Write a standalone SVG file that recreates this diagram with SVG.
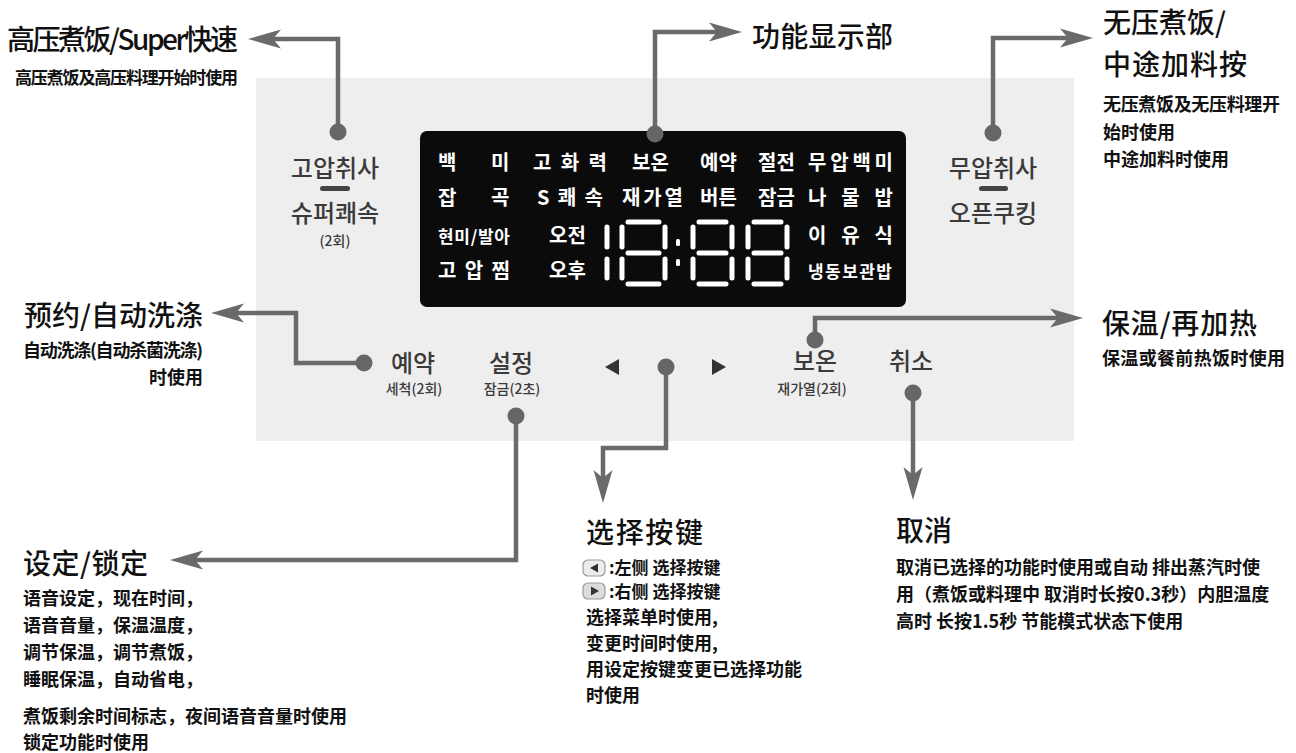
<svg xmlns="http://www.w3.org/2000/svg" width="1296" height="753" viewBox="0 0 1296 753">
<style>
.zh{font-family:"Noto Sans CJK SC","Noto Sans",sans-serif;}
.title{font-size:28px;font-weight:500;fill:#111;}
.sub{font-size:18px;font-weight:700;fill:#111;}
.kr{font-family:"Noto Sans CJK KR","Noto Sans",sans-serif;fill:#3a3a3a;font-weight:500;text-anchor:middle;}
.big{font-size:24px;}
.small{font-size:14px;}
.disp{font-family:"Noto Sans CJK KR","Noto Sans",sans-serif;font-weight:700;font-size:20px;fill:#fff;}
.seg{stroke:#fff;stroke-width:5;stroke-linecap:round;fill:none;}
.conn{fill:none;stroke:#6a6a6a;stroke-width:4.5;marker-end:url(#ah);}
.dot{fill:#666;}
.dash{fill:#444;}
.tri{fill:#333;}
</style>
<defs>
<marker id="ah" markerUnits="userSpaceOnUse" viewBox="-15 -11 37 22" markerWidth="37" markerHeight="22" refX="0" refY="0" orient="auto">
<path d="M20,0 L-13,-9.5 L-5,0 L-13,9.5 Z" fill="#6a6a6a"/>
</marker>
</defs>
<rect width="1296" height="753" fill="#fff"/>

<g id="panel">
<rect x="256" y="78" width="818" height="363" fill="#eeeeee"/>
</g>

<g id="display">
<rect x="420" y="131" width="486" height="176" rx="7" fill="#0b0b0b"/>
<text class="disp" x="438" y="170">백</text>
<text class="disp" x="491" y="170">미</text>
<text class="disp" x="533" y="170" textLength="74">고 화 력</text>
<text class="disp" x="632" y="170">보온</text>
<text class="disp" x="700" y="170">예약</text>
<text class="disp" x="758" y="170">절전</text>
<text class="disp" x="808" y="170" textLength="85">무압백미</text>
<text class="disp" x="438" y="205">잡</text>
<text class="disp" x="491" y="205">곡</text>
<text class="disp" x="537" y="205" textLength="66">S 쾌 속</text>
<text class="disp" x="622" y="205" textLength="61">재가열</text>
<text class="disp" x="700" y="205">버튼</text>
<text class="disp" x="758" y="205">잠금</text>
<text class="disp" x="808" y="205" textLength="85">나 물 밥</text>
<text class="disp" x="438" y="243" textLength="72" style="font-size:17px">현미/발아</text>
<text class="disp" x="549" y="243">오전</text>
<text class="disp" x="808" y="243" textLength="85">이 유 식</text>
<text class="disp" x="438" y="278" textLength="72">고 압 찜</text>
<text class="disp" x="549" y="278">오후</text>
<text class="disp" x="808" y="278" textLength="84" style="font-size:17px">냉동보관밥</text>
<path class="seg" d="M607,227V247M607,259V278
M622,227V247M622,259V278M665,227V247M665,259V278M628,222H659M628,253H659M628,284H659
M693,227V247M693,259V278M732,227V247M732,259V278M699,222H726M699,253H726M699,284H726
M748,227V247M748,259V278M787,227V247M787,259V278M754,222H781M754,253H781M754,284H781"/>
<rect x="676" y="239" width="4" height="7" rx="1.5" fill="#fff"/>
<rect x="676" y="259" width="4" height="7" rx="1.5" fill="#fff"/>
</g>

<g id="btn-pressure">
<text class="kr big" x="335" y="177">고압취사</text>
<rect class="dash" x="320" y="186" width="30" height="5" rx="2.5"/>
<text class="kr big" x="335" y="222">슈퍼쾌속</text>
<text class="kr small" x="335" y="246">(2회)</text>
</g>
<g id="btn-nopressure">
<text class="kr big" x="993" y="177">무압취사</text>
<rect class="dash" x="979" y="186" width="29" height="5" rx="2.5"/>
<text class="kr big" x="993" y="222">오픈쿠킹</text>
</g>
<g id="btn-reserve">
<text class="kr big" x="413" y="372">예약</text>
<text class="kr small" x="414" y="394">세척(2회)</text>
</g>
<g id="btn-setting">
<text class="kr big" x="511" y="372">설정</text>
<text class="kr small" x="512" y="394">잠금(2초)</text>
</g>
<g id="btn-arrows">
<polygon class="tri" points="605,367 619,359 619,375"/>
<polygon class="tri" points="726,367 712,359 712,375"/>
</g>
<g id="btn-keepwarm">
<text class="kr big" x="815" y="370">보온</text>
<text class="kr small" x="812" y="394">재가열(2회)</text>
</g>
<g id="btn-cancel">
<text class="kr big" x="911" y="370">취소</text>
</g>

<g id="connectors">
<path class="conn" d="M338,132V39H268"/>
<path class="conn" d="M655,134V32H722"/>
<path class="conn" d="M993,133V38H1073"/>
<path class="conn" d="M364,363H296V313H231"/>
<path class="conn" d="M516,416V560H190"/>
<path class="conn" d="M666,367V448H603V483"/>
<path class="conn" d="M815,340V318H1063"/>
<path class="conn" d="M913,393V480"/>
<circle class="dot" cx="338" cy="132" r="8.5"/>
<circle class="dot" cx="655" cy="134" r="8.5"/>
<circle class="dot" cx="993" cy="133" r="8.5"/>
<circle class="dot" cx="364" cy="363" r="8.5"/>
<circle class="dot" cx="516" cy="416" r="8.5"/>
<circle class="dot" cx="666" cy="367" r="8.5"/>
<circle class="dot" cx="815" cy="340" r="8.5"/>
<circle class="dot" cx="913" cy="393" r="8.5"/>
</g>

<g id="label-pressure" class="zh">
<text class="title" x="7" y="50" textLength="231">高压煮饭/Super快速</text>
<text class="sub" x="15" y="84" textLength="223" style="font-size:17px">高压煮饭及高压料理开始时使用</text>
</g>
<g id="label-display" class="zh">
<text class="title" x="752" y="47" textLength="141">功能显示部</text>
</g>
<g id="label-nopressure" class="zh">
<text class="title" x="1103" y="33">无压煮饭/</text>
<text class="title" x="1103" y="75" textLength="144">中途加料按</text>
<text class="sub" x="1103" y="111" textLength="177">无压煮饭及无压料理开</text>
<text class="sub" x="1103" y="139">始时使用</text>
<text class="sub" x="1103" y="166">中途加料时使用</text>
</g>
<g id="label-reserve" class="zh" text-anchor="end">
<text class="title" x="203" y="326">预约/自动洗涤</text>
<text class="sub" x="203" y="357" textLength="180">自动洗涤(自动杀菌洗涤)</text>
<text class="sub" x="203" y="384">时使用</text>
</g>
<g id="label-keepwarm" class="zh">
<text class="title" x="1102" y="334" textLength="155">保温/再加热</text>
<text class="sub" x="1102" y="365" textLength="183">保温或餐前热饭时使用</text>
</g>
<g id="label-setting" class="zh">
<text class="title" x="23" y="574" textLength="125">设定/锁定</text>
<text class="sub" x="23" y="605">语音设定，现在时间，</text>
<text class="sub" x="23" y="632">语音音量，保温温度，</text>
<text class="sub" x="23" y="659">调节保温，调节煮饭，</text>
<text class="sub" x="23" y="686">睡眠保温，自动省电，</text>
<text class="sub" x="23" y="723">煮饭剩余时间标志，夜间语音音量时使用</text>
<text class="sub" x="23" y="749">锁定功能时使用</text>
</g>
<g id="label-select" class="zh">
<text class="title" x="586" y="543" textLength="117">选择按键</text>
<rect x="583" y="560" width="22" height="16" rx="5" fill="#ececec" stroke="#999" stroke-width="1.2"/>
<polygon points="590,568 598,563.5 598,572.5" fill="#333"/>
<rect x="583" y="583" width="22" height="16" rx="5" fill="#dcdcdc" stroke="#999" stroke-width="1.2"/>
<polygon points="599,591 591,586.5 591,595.5" fill="#333"/>
<text class="sub" x="609" y="574" style="font-size:17px">:左侧 选择按键</text>
<text class="sub" x="609" y="598" style="font-size:17px">:右侧 选择按键</text>
<text class="sub" x="586" y="624">选择菜单时使用,</text>
<text class="sub" x="586" y="650">变更时间时使用,</text>
<text class="sub" x="586" y="676">用设定按键变更已选择功能</text>
<text class="sub" x="586" y="702">时使用</text>
</g>
<g id="label-cancel" class="zh">
<text class="title" x="896" y="541">取消</text>
<text class="sub" x="896" y="574">取消已选择的功能时使用或自动 排出蒸汽时使</text>
<text class="sub" x="896" y="601">用（煮饭或料理中 取消时长按0.3秒）内胆温度</text>
<text class="sub" x="896" y="628">高时 长按1.5秒 节能模式状态下使用</text>
</g>
</svg>
